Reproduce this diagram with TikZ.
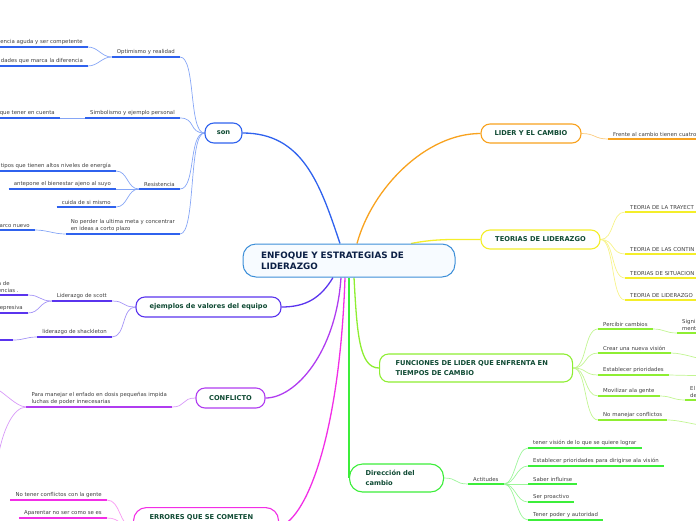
\documentclass[tikz,border=0pt]{standalone}
\usepackage{fontspec}
\setmainfont{DejaVu Sans}
\usetikzlibrary{backgrounds}
\definecolor{hubline}{HTML}{3D8FD8}
\definecolor{hubfill}{HTML}{F7FBFF}
\definecolor{hubtext}{HTML}{0B1F45}
\definecolor{titletext}{HTML}{0F4A33}
\definecolor{leaftext}{HTML}{404040}
\definecolor{sonblue}{HTML}{2F62EE}
\definecolor{sonlight}{HTML}{86A6F6}
\definecolor{lidorange}{HTML}{F8A21E}
\definecolor{lidlight}{HTML}{FBCB7E}
\definecolor{teoyellow}{HTML}{F4EE2A}
\definecolor{teolight}{HTML}{F7F38A}
\definecolor{funlime}{HTML}{8EEE32}
\definecolor{funlight}{HTML}{C2F592}
\definecolor{dirgreen}{HTML}{3CEE3A}
\definecolor{dirlight}{HTML}{9CF59A}
\definecolor{errmag}{HTML}{F22EE6}
\definecolor{errlight}{HTML}{F898F2}
\definecolor{conpurple}{HTML}{B03CF0}
\definecolor{conlight}{HTML}{D89AF8}
\definecolor{ejeindigo}{HTML}{5A34EE}
\definecolor{ejelight}{HTML}{A494F6}
\newcommand{\leaffont}{\fontsize{5.4}{7}\selectfont}
\newcommand{\titlefont}{\fontsize{6.7}{9.5}\selectfont\bfseries}
\newcommand{\hubfont}{\fontsize{8.8}{11}\selectfont\bfseries}
\tikzset{
  hub/.style={draw=hubline,fill=hubfill,line width=1pt,rounded corners=13pt,
    text=hubtext,font=\hubfont,align=left,text width=176pt,inner xsep=18pt,
    minimum height=33pt},
  topic/.style={draw=#1,fill=white,line width=1.1pt,rounded corners=9pt,
    text=titletext,font=\titlefont,align=left,inner xsep=12pt,minimum height=20pt},
  leaf/.style={text=leaftext,font=\leaffont,align=left,inner xsep=5pt,inner ysep=2.5pt,
    append after command={(\tikzlastnode.south west) edge[draw=#1,line width=2pt]
      (\tikzlastnode.south east)}},
  rleaf/.style={leaf=#1,anchor=south east},
  lleaf/.style={leaf=#1,anchor=south west},
  link/.style={draw=#1,line width=0.7pt},
  trunk/.style={draw=#1,line width=1.3pt},
}
\begin{document}
\begin{tikzpicture}[x=1pt,y=-1pt]
\useasboundingbox (0,0) rectangle (696,520);
% centre and main topics
\node[hub] (hub) at (349,260.5) {ENFOQUE Y ESTRATEGIAS DE\\LIDERAZGO};
\node[topic=sonblue,minimum width=37pt,inner xsep=4pt] (son) at (223.5,133) {son};
\node[topic=lidorange,minimum width=100pt,minimum height=19pt] (lider) at (531,133.5) {LIDER Y EL CAMBIO};
\node[topic=teoyellow,minimum width=119pt,minimum height=19pt] (teorias) at (540.5,239.5) {TEORIAS DE LIDERAZGO};
\node[topic=funlime,anchor=west,text width=161pt,inner xsep=16pt,minimum height=28pt] (funciones) at (379,368)
  {FUNCIONES DE LIDER QUE ENFRENTA EN\\TIEMPOS DE CAMBIO};
\node[topic=dirgreen,anchor=west,text width=62pt,inner xsep=16pt,minimum height=28pt,rounded corners=13pt] (direccion) at (349,478)
  {Dirección del\\cambio};
\node[topic=ejeindigo,minimum width=145pt] (ejemplos) at (208.5,307) {ejemplos de valores del equipo};
\node[topic=conpurple,minimum width=69pt] (conflicto) at (230.5,398) {CONFLICTO};
\node[topic=errmag,anchor=north west,text width=113pt,inner xsep=16pt,inner ysep=7pt,text depth=20pt,rounded corners=13pt] (errores) at (133,507)
  {ERRORES QUE SE COMETEN};
% son
\node[rleaf=sonblue] (opt) at (180,57) {Optimismo y realidad};
\node[rleaf=sonblue] (opt1) at (88,47) {encia aguda y ser competente};
\node[rleaf=sonblue] (opt2) at (88,66) {dades que marca la diferencia};
\node[rleaf=sonblue] (sim) at (180,118) {Simbolismo y ejemplo personal};
\node[rleaf=sonblue] (sim1) at (60,118) {que tener en cuenta};
\node[rleaf=sonblue] (res) at (180,189) {Resistencia};
\node[rleaf=sonblue] (res1) at (116,171) {tipos que tienen altos niveles de energía};
\node[rleaf=sonblue] (res2) at (116,189) {antepone el bienestar ajeno al suyo};
\node[rleaf=sonblue] (res3) at (116,207) {cuida de si mismo};
\node[rleaf=sonblue] (meta) at (180,234) {No perder la ultima meta y concentrar\\en ideas a corto plazo};
\node[rleaf=sonblue] (meta1) at (35,230) {arco nuevo};
% ejemplos de valores
\node[rleaf=ejeindigo] (scott) at (112,301) {Liderazgo de scott};
\node[rleaf=ejeindigo,text width=25pt] (scott1) at (28,295) {a de\\encias .};
\node[rleaf=ejeindigo] (scott2) at (28,313) {epresiva};
\node[rleaf=ejeindigo] (shack) at (112,337) {liderazgo de shackleton};
\node[rleaf=ejeindigo,text width=20pt] (shack1) at (13,340) {};
% conflicto
\node[rleaf=conpurple] (enfado) at (172,407) {Para manejar el enfado en dosis pequeñas impida\\luchas de poder innecesarias};
\coordinate (enfado1) at (-12,386);
\coordinate (enfado2) at (-2,458);
% errores
\node[rleaf=errmag] (err1) at (107,500) {No tener conflictos con la gente};
\node[rleaf=errmag] (err2) at (107,518) {Aparentar no ser como se es};
% lider y el cambio
\node[lleaf=lidorange,text width=95pt] (frente) at (608,139) {Frente al cambio tienen cuatro};
% teorias
\node[lleaf=teoyellow,text width=80pt] (tray) at (625,212) {TEORIA DE LA TRAYECT};
\node[lleaf=teoyellow,text width=80pt] (contin) at (625,254) {TEORIA DE LAS CONTIN};
\node[lleaf=teoyellow,text width=80pt] (situa) at (625,278) {TEORIAS DE SITUACION};
\node[lleaf=teoyellow,text width=80pt] (lidz) at (625,300) {TEORIA DE LIDERAZGO};
% funciones
\node[lleaf=funlime] (perc) at (598,329) {Percibir cambios};
\node[lleaf=funlime,text width=30pt] (perc1) at (677,333) {Signi\\ment};
\node[lleaf=funlime] (crear) at (598,353) {Crear una nueva visión};
\node[lleaf=funlime] (estab) at (598,375) {Establecer prioridades};
\node[lleaf=funlime] (movil) at (598,396) {Movilizar ala gente};
\node[lleaf=funlime,text width=20pt] (movil1) at (685,400) {El l\\de};
\node[lleaf=funlime] (nomaneja) at (598,420) {No manejar conflictos};
\coordinate (crear1) at (716,361);
\coordinate (estab1) at (716,376);
\coordinate (nomaneja1) at (716,427);
% direccion del cambio
\node[lleaf=dirgreen] (actit) at (468,484) {Actitudes};
\node[lleaf=dirgreen] (act1) at (528,448) {tener visión de lo que se quiere lograr};
\node[lleaf=dirgreen] (act2) at (528,466) {Establecer prioridades para dirigirse ala visión};
\node[lleaf=dirgreen] (act3) at (528,484) {Saber influirse};
\node[lleaf=dirgreen] (act4) at (528,502) {Ser proactivo};
\node[lleaf=dirgreen] (act5) at (528,520) {Tener poder y autoridad};
\begin{scope}[on background layer]
% trunks from the centre
\draw[trunk=sonblue] ([xshift=-9pt]hub.north) .. controls +(-20,-60) and +(60,0) .. (son.east);
\draw[trunk=lidorange] ([xshift=8pt]hub.north) .. controls +(15,-55) and +(-55,0) .. (lider.west);
\draw[trunk=teoyellow] ([xshift=62pt]hub.north) .. controls +(25,-5) and +(-25,0) .. (teorias.west);
\draw[trunk=funlime] ([xshift=5pt]hub.south) .. controls +(3,55) and +(-20,0) .. (funciones.west);
\draw[trunk=dirgreen] (hub.south) .. controls +(0,120) and +(0,-40) .. (direccion.west);
\draw[trunk=ejeindigo] ([xshift=-16pt]hub.south) .. controls +(-12,20) and +(25,0) .. (ejemplos.east);
\draw[trunk=conpurple] ([xshift=-8pt]hub.south) .. controls +(-5,75) and +(30,0) .. (conflicto.east);
\draw[trunk=errmag] ([xshift=-4pt]hub.south) .. controls +(-5,150) and +(30,-10) .. (errores.east);
% son
\draw[link=sonlight] (son.west) .. controls +(-16,0) and +(16,0) .. (opt.south east);
\draw[link=sonlight] (son.west) .. controls +(-16,0) and +(16,0) .. (sim.south east);
\draw[link=sonlight] (son.west) .. controls +(-16,0) and +(16,0) .. (res.south east);
\draw[link=sonlight] (son.west) .. controls +(-16,0) and +(16,0) .. (meta.south east);
\draw[link=sonlight] (opt.south west) .. controls +(-10,0) and +(10,0) .. (opt1.south east);
\draw[link=sonlight] (opt.south west) .. controls +(-10,0) and +(10,0) .. (opt2.south east);
\draw[link=sonlight] (sim.south west) -- (sim1.south east);
\draw[link=sonlight] (res.south west) .. controls +(-12,0) and +(12,0) .. (res1.south east);
\draw[link=sonlight] (res.south west) -- (res2.south east);
\draw[link=sonlight] (res.south west) .. controls +(-12,0) and +(12,0) .. (res3.south east);
\draw[link=sonlight] (meta.south west) .. controls +(-12,0) and +(12,0) .. (meta1.south east);
% ejemplos
\draw[link=ejelight] (ejemplos.west) .. controls +(-14,0) and +(14,0) .. (scott.south east);
\draw[link=ejelight] (ejemplos.west) .. controls +(-14,0) and +(14,0) .. (shack.south east);
\draw[link=ejelight] (scott.south west) .. controls +(-12,0) and +(12,0) .. (scott1.south east);
\draw[link=ejelight] (scott.south west) .. controls +(-12,0) and +(12,0) .. (scott2.south east);
\draw[link=ejelight] (shack.south west) .. controls +(-12,0) and +(12,0) .. (shack1.south east);
% conflicto
\draw[link=conlight] (conflicto.west) .. controls +(-14,0) and +(14,0) .. (enfado.south east);
\draw[link=conlight] (enfado.south west) .. controls +(-12,0) and +(12,0) .. (enfado1);
\draw[link=conlight] (enfado.south west) .. controls +(-14,0) and +(4,-25) .. (enfado2);
% errores
\draw[link=errlight] (errores.west) .. controls +(-14,0) and +(14,0) .. (err1.south east);
\draw[link=errlight] (errores.west) .. controls +(-14,0) and +(14,0) .. (err2.south east);
% lider, teorias
\draw[link=lidlight] (lider.east) .. controls +(14,0) and +(-14,0) .. (frente.south west);
\draw[link=teolight] (teorias.east) .. controls +(14,0) and +(-14,0) .. (tray.south west);
\draw[link=teolight] (teorias.east) .. controls +(14,0) and +(-14,0) .. (contin.south west);
\draw[link=teolight] (teorias.east) .. controls +(14,0) and +(-14,0) .. (situa.south west);
\draw[link=teolight] (teorias.east) .. controls +(14,0) and +(-14,0) .. (lidz.south west);
% funciones
\draw[link=funlight] (funciones.east) .. controls +(14,0) and +(-14,0) .. (perc.south west);
\draw[link=funlight] (funciones.east) .. controls +(14,0) and +(-14,0) .. (crear.south west);
\draw[link=funlight] (funciones.east) .. controls +(14,0) and +(-14,0) .. (estab.south west);
\draw[link=funlight] (funciones.east) .. controls +(14,0) and +(-14,0) .. (movil.south west);
\draw[link=funlight] (funciones.east) .. controls +(14,0) and +(-14,0) .. (nomaneja.south west);
\draw[link=funlight] (perc.south east) .. controls +(12,0) and +(-12,0) .. (perc1.south west);
\draw[link=funlight] (movil.south east) .. controls +(12,0) and +(-12,0) .. (movil1.south west);
\draw[link=funlight] (crear.south east) .. controls +(14,0) and +(-14,0) .. (crear1);
\draw[link=funlight] (estab.south east) -- (estab1);
\draw[link=funlight] (nomaneja.south east) .. controls +(14,0) and +(-14,0) .. (nomaneja1);
% direccion
\draw[link=dirlight] (direccion.east) .. controls +(14,0) and +(-14,0) .. (actit.south west);
\draw[link=dirlight] (actit.south east) .. controls +(12,0) and +(-12,0) .. (act1.south west);
\draw[link=dirlight] (actit.south east) .. controls +(12,0) and +(-12,0) .. (act2.south west);
\draw[link=dirlight] (actit.south east) -- (act3.south west);
\draw[link=dirlight] (actit.south east) .. controls +(12,0) and +(-12,0) .. (act4.south west);
\draw[link=dirlight] (actit.south east) .. controls +(12,0) and +(-12,0) .. (act5.south west);
\end{scope}
\end{tikzpicture}
\end{document}
